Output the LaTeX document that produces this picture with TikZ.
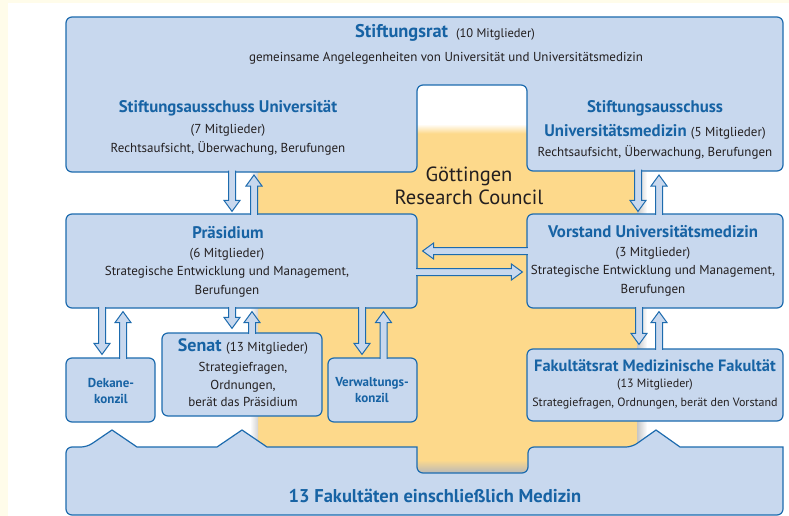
\documentclass[tikz,border=0pt]{standalone}
\usepackage{fontspec}
\setmainfont{PT Sans}
\usetikzlibrary{calc}
\definecolor{boxfill}{HTML}{C8D8EE}
\definecolor{boxline}{HTML}{1D6BAE}
\definecolor{titleblue}{HTML}{1763A4}
\definecolor{council}{HTML}{FDD98B}
\definecolor{cream}{HTML}{FFFCEA}
\definecolor{textcol}{HTML}{231F20}
\begin{document}
\begin{tikzpicture}[x=1pt,y=-1pt,
  boxshape/.style={draw=boxline,fill=boxfill,line width=1.2pt,rounded corners=6pt},
  box/.style={boxshape,rectangle,inner sep=0pt},
  ttl/.style={font=\fontsize{16.8}{19}\selectfont\bfseries,text=titleblue,inner sep=0pt,align=center},
  small/.style={font=\fontsize{13}{16}\selectfont\bfseries,text=titleblue,inner sep=0pt,align=center},
  txt/.style={font=\fontsize{13}{18.5}\selectfont,text=textcol,inner sep=0pt,align=center},
  dblarr/.style={draw=boxline,fill=boxfill,line width=1pt,line join=miter,
    to path={($(\tikztostart)!3.5pt!90:(\tikztotarget)$)
      -- ($($(\tikztotarget)!11pt!(\tikztostart)$)!3.5pt!-90:(\tikztostart)$)
      -- ($($(\tikztotarget)!11pt!(\tikztostart)$)!8pt!-90:(\tikztostart)$)
      -- (\tikztotarget)
      -- ($($(\tikztotarget)!11pt!(\tikztostart)$)!8pt!90:(\tikztostart)$)
      -- ($($(\tikztotarget)!11pt!(\tikztostart)$)!3.5pt!90:(\tikztostart)$)
      -- ($(\tikztostart)!3.5pt!-90:(\tikztotarget)$)}}]
\useasboundingbox (0,0) rectangle (789,516);
\fill[white] (0,0) rectangle (789,516);
\fill[cream] (0,0) rectangle (8,516);
\fill[cream] (0,0) rectangle (789,3);

%research council panel behind the boxes
\fill[council] (258,133) rectangle (637,473);
\shade[top color=white,bottom color=council] (417,124) rectangle (527,133.5);
\shade[left color=white,right color=gray!35] (250,172) rectangle (258,447);
\shade[left color=gray!45,right color=white] (637,172) rectangle (647,447);
\shade[top color=council,bottom color=gray!55] (417,460) rectangle (528,473);

%stiftungsrat with both stiftungsausschuesse
\draw[boxshape] (300,17) -- (783,17) -- (783,171) -- (527,171) -- (527,85)
  -- (417,85) -- (417,172) -- (66,172) -- (66,17) -- cycle;
\coordinate (sau) at (241.5,172); % bottom of left ausschuss
\coordinate (saum) at (655,171); % bottom of right ausschuss

%13 fakultaeten, with the peaks
\draw[boxshape] (400,515) -- (66,515) -- (66,447) -- (87,447) [sharp corners] -- (112,430)
  -- (137,447) -- (217,447) -- (242,430) -- (267,447) -- (417,447) [rounded corners=6pt]
  -- (417,473) -- (528,473) -- (528,447) -- (632,447) [sharp corners] -- (656,430)
  -- (680,447) -- (783,447) [rounded corners=6pt] -- (783,515) -- cycle;

%boxes
\node[box,minimum width=351pt,minimum height=94pt] (pr) at (241.5,261) {};
\node[box,minimum width=256pt,minimum height=94pt] (vo) at (655,261) {};
\node[box,minimum width=89pt,minimum height=64pt] (dk) at (110.5,390) {};
\node[box,minimum width=160pt,minimum height=83pt] (se) at (242,374.5) {};
\node[box,minimum width=89pt,minimum height=64pt] (vk) at (372.5,390) {};
\node[box,minimum width=256pt,minimum height=72pt] (fr) at (655,385) {};

%arrows between ausschuesse and praesidium / vorstand
\filldraw[dblarr] ($(sau)+(-9.5,-1.5)$) to ($(pr.north)+(-9.5,-2)$);
\filldraw[dblarr] ($(pr.north)+(12.5,1.5)$) to ($(sau)+(12.5,3)$);
\filldraw[dblarr] ($(saum)+(-17,-1.5)$) to ($(vo.north)+(-17,-2)$);
\filldraw[dblarr] ($(vo.north)+(4,1.5)$) to ($(saum)+(4,4)$);

%arrows between praesidium and vorstand
\filldraw[dblarr] ($(vo.west)+(1.5,-10)$) to ($(pr.east |- vo.west)+(5,-10)$);
\filldraw[dblarr] ($(pr.east)+(-1.5,11)$) to ($(vo.west |- pr.east)+(-4,11)$);

%arrows below praesidium
\filldraw[dblarr] ($(dk.north |- pr.south)+(-8.5,-1.5)$) to ($(dk.north)+(-8.5,-3)$);
\filldraw[dblarr] ($(dk.north)+(12.5,1.5)$) to ($(dk.north |- pr.south)+(12.5,3)$);
\filldraw[dblarr] ($(se.north |- pr.south)+(-10,-1.5)$) to ($(se.north)+(-10,-4)$);
\filldraw[dblarr] ($(se.north)+(10,1.5)$) to ($(se.north |- pr.south)+(10,3)$);
\filldraw[dblarr] ($(vk.north |- pr.south)+(-10.5,-1.5)$) to ($(vk.north)+(-10.5,-3)$);
\filldraw[dblarr] ($(vk.north)+(11,1.5)$) to ($(vk.north |- pr.south)+(11,3)$);

%arrows below vorstand
\filldraw[dblarr] ($(fr.north |- vo.south)+(-16,-1.5)$) to ($(fr.north)+(-16,-4)$);
\filldraw[dblarr] ($(fr.north)+(4,1.5)$) to ($(fr.north |- vo.south)+(4,3)$);

%texts
\node[ttl,font=\fontsize{18.4}{21}\selectfont\bfseries] (srt) at (445,33)
  {Stiftungsrat\hspace{8pt}{\mdseries\fontsize{12.5}{14}\selectfont\color{textcol}(10 Mitglieder)}};
\node[txt] (srtx) at (446,58) {gemeinsame Angelegenheiten von Universität und Universitätsmedizin};

\node[ttl] (saut) at (228,108) {Stiftungsausschuss Universität};
\node[txt] (saux) at (228,139.5) {(7 Mitglieder)\\Rechtsaufsicht, Überwachung, Berufungen};

\node[ttl] (saumt) at (655,108) {Stiftungsausschuss};
\node[ttl] (saumt2) at (655,132)
  {Universitätsmedizin {\mdseries\fontsize{13}{14}\selectfont\color{textcol}(5 Mitglieder)}};
\node[txt] (saumx) at (655,152) {Rechtsaufsicht, Überwachung, Berufungen};

\node[font=\fontsize{20.5}{22.5}\selectfont,text=textcol,align=center,inner sep=0pt] (grc) at (469,186)
  {Göttingen\\Research Council};

\node[ttl] (prt) at (228,233) {Präsidium};
\node[txt] (prx) at (227,272.5) {(6 Mitglieder)\\Strategische Entwicklung und Management,\\Berufungen};

\node[ttl] (vot) at (653,232) {Vorstand Universitätsmedizin};
\node[txt] (vox) at (653,271.5) {(3 Mitglieder)\\Strategische Entwicklung und Management,\\Berufungen};

\node[ttl,font=\fontsize{18}{20}\selectfont\bfseries] (set) at (243,347)
  {Senat {\mdseries\fontsize{13}{14}\selectfont\color{textcol}(13 Mitglieder)}};
\node[txt,font=\fontsize{13}{17.5}\selectfont] (sex) at (243,384.5) {Strategiefragen,\\Ordnungen,\\berät das Präsidium};

\node[small] (dkt) at (111,391) {Dekane-\\konzil};
\node[small] (vkt) at (372,390.5) {Verwaltungs-\\konzil};

\node[ttl,font=\fontsize{16.4}{19}\selectfont\bfseries] (frt) at (655,366) {Fakultätsrat Medizinische Fakultät};
\node[txt,font=\fontsize{12}{19}\selectfont] (frx) at (655,393.5) {(13 Mitglieder)\\Strategiefragen, Ordnungen, berät den Vorstand};

\node[ttl,font=\fontsize{18.5}{20}\selectfont\bfseries] (fak) at (435,496) {13 Fakultäten einschließlich Medizin};
\end{tikzpicture}
\end{document}
